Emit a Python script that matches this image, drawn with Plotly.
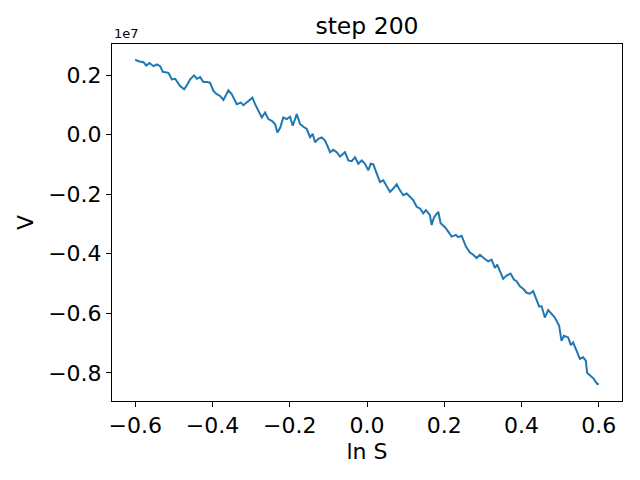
import plotly.graph_objects as go

ln_s = [-0.6, -0.5915, -0.5785, -0.5715, -0.5630, -0.5527, -0.5439, -0.5353, -0.5284, -0.5139,
        -0.5051, -0.4965, -0.4836, -0.4733, -0.4663, -0.4578, -0.4474, -0.4404, -0.4319, -0.4234,
        -0.4130, -0.4060, -0.3975, -0.3887, -0.3802, -0.3716, -0.3587, -0.3499, -0.3370, -0.3266,
        -0.3199, -0.3111, -0.3026, -0.2966, -0.2897, -0.2811, -0.2723, -0.2638, -0.2553, -0.2465,
        -0.2379, -0.2320, -0.2250, -0.2165, -0.2077, -0.1991, -0.1922, -0.1818, -0.1733, -0.1647,
        -0.1559, -0.1474, -0.1404, -0.1345, -0.1259, -0.1172, -0.1086, -0.1027, -0.0957, -0.0872,
        -0.0784, -0.0698, -0.0569, -0.0484, -0.0396, -0.0310, -0.0225, -0.0137, -0.0052, 0.0034,
        0.0096, 0.0163, 0.0251, 0.0336, 0.0422, 0.0509, 0.0595, 0.0680, 0.0768, 0.0853,
        0.0939, 0.1027, 0.1112, 0.1197, 0.1285, 0.1371, 0.1456, 0.1526, 0.1629, 0.1673,
        0.1733, 0.1844, 0.1906, 0.2017, 0.2103, 0.2190, 0.2302, 0.2361, 0.2449, 0.2560,
        0.2664, 0.2749, 0.2837, 0.2922, 0.3052, 0.3137, 0.3225, 0.3310, 0.3370, 0.3440,
        0.3525, 0.3613, 0.3716, 0.3802, 0.3872, 0.3957, 0.4042, 0.4130, 0.4215, 0.4301,
        0.4389, 0.4456, 0.4518, 0.4603, 0.4689, 0.4777, 0.4862, 0.4973, 0.5035, 0.5095,
        0.5206, 0.5276, 0.5335, 0.5423, 0.5509, 0.5594, 0.5664, 0.5697, 0.5785, 0.5870,
        0.5956, 0.6]

v_1e7 = [0.2523, 0.2467, 0.2433, 0.2323, 0.2410, 0.2300, 0.2357, 0.2300, 0.2110, 0.2077,
         0.1857, 0.1877, 0.1633, 0.1523, 0.1657, 0.1857, 0.1990, 0.1877, 0.1933, 0.1767,
         0.1767, 0.1743, 0.1467, 0.1357, 0.1300, 0.1167, 0.1490, 0.1357, 0.1023, 0.1077,
         0.0990, 0.1077, 0.1157, 0.1243, 0.1023, 0.0777, 0.0577, 0.0743, 0.0523, 0.0467,
         0.0357, 0.0077, 0.0223, 0.0577, 0.0523, 0.0600, 0.0300, 0.0690, 0.0357, 0.0267,
         0.0190, -0.0090, 0.0023, -0.0257, -0.0143, -0.0090, -0.0200, -0.0367, -0.0590, -0.0510,
         -0.0590, -0.0733, -0.0590, -0.0867, -0.0890, -0.0757, -0.0977, -0.0867, -0.0977, -0.1200,
         -0.0977, -0.1000, -0.1310, -0.1590, -0.1533, -0.1757, -0.1923, -0.1810, -0.1667, -0.1867,
         -0.2033, -0.1977, -0.2090, -0.2200, -0.2423, -0.2477, -0.2643, -0.2533, -0.2700, -0.3033,
         -0.2777, -0.2590, -0.2977, -0.3110, -0.3257, -0.3423, -0.3367, -0.3443, -0.3400, -0.3757,
         -0.3957, -0.4033, -0.4143, -0.4033, -0.4177, -0.4257, -0.4200, -0.4477, -0.4367, -0.4590,
         -0.4843, -0.4733, -0.4667, -0.4867, -0.4923, -0.5090, -0.5177, -0.5310, -0.5343, -0.5257,
         -0.5533, -0.5777, -0.5757, -0.6143, -0.5890, -0.6033, -0.6143, -0.6423, -0.6923, -0.6757,
         -0.6810, -0.7067, -0.6977, -0.7257, -0.7533, -0.7477, -0.7590, -0.8000, -0.8090, -0.8200,
         -0.8367, -0.8380]

scale = 1e7
V = [v * scale for v in v_1e7]

x_ticks = [-0.6, -0.4, -0.2, 0.0, 0.2, 0.4, 0.6]
x_tick_labels = ["\u22120.6", "\u22120.4", "\u22120.2", "0.0", "0.2", "0.4", "0.6"]
y_ticks = [0.2, 0.0, -0.2, -0.4, -0.6, -0.8]
y_tick_labels = ["0.2", "0.0", "\u22120.2", "\u22120.4", "\u22120.6", "\u22120.8"]

FONT = "DejaVu Sans, sans-serif"

fig = go.Figure()
fig.add_trace(go.Scatter(x=ln_s, y=V, mode="lines",
                         line=dict(color="#1f77b4", width=2), showlegend=False))

axis_common = dict(showline=True, linecolor="black", linewidth=1, mirror=True,
                   ticks="outside", ticklen=5, tickwidth=1, tickcolor="black",
                   showgrid=False, zeroline=False,
                   tickfont=dict(family=FONT, size=22, color="black"))

fig.update_layout(
    width=640, height=480,
    paper_bgcolor="white", plot_bgcolor="white",
    margin=dict(l=104, r=26, t=36, b=87),
    title=dict(text="step 200", x=0.5, xref="paper", xanchor="center",
               y=1, yref="paper", yanchor="bottom", pad=dict(b=10),
               font=dict(family=FONT, size=23.5, color="black")),
    xaxis=dict(range=[-0.66, 0.66], tickvals=x_ticks, ticktext=x_tick_labels,
               title=dict(text="ln S", font=dict(family=FONT, size=22, color="black"), standoff=6),
               **axis_common),
    yaxis=dict(range=[-0.8945 * scale, 0.3045 * scale],
               tickvals=[t * scale for t in y_ticks], ticktext=y_tick_labels,
               title=dict(text="V", font=dict(family=FONT, size=22, color="black"), standoff=8),
               **axis_common),
    annotations=[dict(text="1e7", xref="paper", yref="paper", x=0, y=1,
                      xanchor="left", yanchor="bottom", yshift=1, showarrow=False,
                      font=dict(family=FONT, size=13, color="black"))],
)

fig.write_html("out.html")
